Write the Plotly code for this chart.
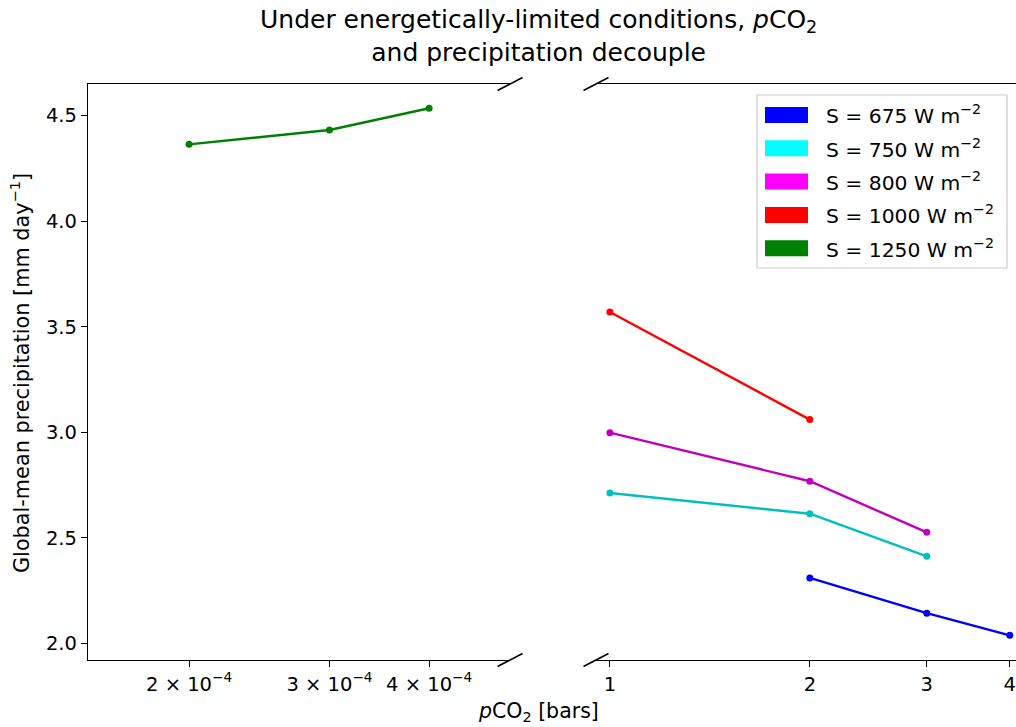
import numpy as np
import plotly.graph_objects as go

# Series: solar constant label, line colour, legend patch colour, pCO2 [bars], precipitation [mm/day]
labels = ["S = 675 W m<sup>−2</sup>", "S = 750 W m<sup>−2</sup>", "S = 800 W m<sup>−2</sup>",
          "S = 1000 W m<sup>−2</sup>", "S = 1250 W m<sup>−2</sup>"]
line_colors = ["#0000ff", "#00bfbf", "#bf00bf", "#ff0000", "#008000"]
patch_colors = ["#0000ff", "#00ffff", "#ff00ff", "#ff0000", "#008000"]

pco2_675 = [2, 3, 4]
precip_675 = [2.310, 2.143, 2.038]
pco2_750 = [1, 2, 3]
precip_750 = [2.712, 2.614, 2.412]
pco2_800 = [1, 2, 3]
precip_800 = [2.998, 2.768, 2.526]
pco2_1000 = [1, 2]
precip_1000 = [3.570, 3.060]
pco2_1250 = [2e-4, 3e-4, 4e-4]
precip_1250 = [4.364, 4.432, 4.535]

low_ticks = [2e-4, 3e-4, 4e-4]
low_ticktext = ["2 × 10<sup>−4</sup>", "3 × 10<sup>−4</sup>", "4 × 10<sup>−4</sup>"]
high_ticks = [1, 2, 3, 4]
high_ticktext = ["1", "2", "3", "4"]
y_ticks = [2.0, 2.5, 3.0, 3.5, 4.0, 4.5]

series = [
    (pco2_675, precip_675),
    (pco2_750, precip_750),
    (pco2_800, precip_800),
    (pco2_1000, precip_1000),
    (pco2_1250, precip_1250),
]

FONT = "DejaVu Sans"
TICK_SIZE = 19.5
W, H = 1016, 727
ML, MR, MT, MB = 88, 0, 84, 67
PW = W - ML - MR
PH = H - MT - MB
left_dom = [0, 422 / PW]
right_dom = [508 / PW, 1]

fig = go.Figure()
for (x, y), col in zip(series, line_colors):
    high = x[0] >= 0.5
    fig.add_trace(go.Scatter(
        x=x, y=y, mode="lines+markers",
        line=dict(color=col, width=2.4),
        marker=dict(color=col, size=7),
        xaxis="x2" if high else "x", yaxis="y2" if high else "y",
        showlegend=False, hoverinfo="x+y",
    ))

axis_common = dict(type="log", showgrid=False, zeroline=False, showline=True, mirror=True,
                   linecolor="black", linewidth=1.3, ticks="outside", ticklen=6,
                   tickcolor="black", ticklabeloverflow="allow",
                   tickfont=dict(family=FONT, size=TICK_SIZE, color="black"))

fig.update_layout(
    width=W, height=H,
    margin=dict(l=ML, r=MR, t=MT, b=MB),
    paper_bgcolor="white", plot_bgcolor="white",
    font=dict(family=FONT, color="black"),
    xaxis=dict(domain=left_dom, range=[-3.8257, -3.2965], tickvals=low_ticks,
               ticktext=low_ticktext, anchor="y", **axis_common),
    xaxis2=dict(domain=right_dom, range=[np.log10(0.953), np.log10(4.087)], tickvals=high_ticks,
                ticktext=high_ticktext, anchor="y2", **axis_common),
    yaxis=dict(domain=[0, 1], range=[1.921, 4.650], tickvals=y_ticks,
               ticktext=[f"{v:.1f}" for v in y_ticks], showgrid=False, zeroline=False,
               showline=True, linecolor="black", linewidth=1.3, ticks="outside", ticklen=6,
               tickcolor="black", tickfont=dict(family=FONT, size=TICK_SIZE, color="black"),
               anchor="x"),
    yaxis2=dict(domain=[0, 1], range=[1.921, 4.650], matches="y", showgrid=False,
                zeroline=False, showline=False, showticklabels=False, ticks="", anchor="x2"),
    showlegend=False,
)

annotations = [
    dict(text="Under energetically-limited conditions, <i>p</i>CO<sub>2</sub><br>and precipitation decouple",
         x=(538 - ML) / PW, y=1 + (MT - 36) / PH, xref="paper", yref="paper",
         xanchor="center", yanchor="middle", showarrow=False,
         font=dict(family=FONT, size=25, color="black")),
    dict(text="<i>p</i>CO<sub>2</sub> [bars]", x=(538 - ML) / PW, y=-(712 - MT - PH) / PH,
         xref="paper", yref="paper", xanchor="center", yanchor="middle", showarrow=False,
         font=dict(family=FONT, size=20.5, color="black")),
    dict(text="Global-mean precipitation [mm day<sup>−1</sup>]", x=-(ML - 20) / PW,
         y=(H - MB - 373) / PH, xref="paper", yref="paper", textangle=-90,
         xanchor="center", yanchor="middle", showarrow=False,
         font=dict(family=FONT, size=20.8, color="black")),
]

shapes = []
# diagonal break marks where the x axis is split
dx, dy = 12.5 / PW, 6.5 / PH
for xc in (left_dom[1], right_dom[0]):
    for yc in (0, 1):
        shapes.append(dict(type="line", xref="paper", yref="paper",
                           x0=xc - dx, y0=yc - dy, x1=xc + dx, y1=yc + dy,
                           line=dict(color="black", width=1.6)))

# legend box with colour patches
lx0, lx1 = (757 - ML) / PW, (1007 - ML) / PW
ly_top, ly_bot = 1 - (95 - MT) / PH, 1 - (268 - MT) / PH
shapes.append(dict(type="rect", xref="paper", yref="paper", x0=lx0, x1=lx1, y0=ly_bot, y1=ly_top,
                   line=dict(color="#cccccc", width=1.2), fillcolor="rgba(255,255,255,0.8)",
                   layer="above"))
for i, (lab, pc) in enumerate(zip(labels, patch_colors)):
    cy = 115 + i * 33.3
    shapes.append(dict(type="rect", xref="paper", yref="paper",
                       x0=(765 - ML) / PW, x1=(808 - ML) / PW,
                       y0=1 - (cy + 8 - MT) / PH, y1=1 - (cy - 8 - MT) / PH,
                       line=dict(width=0), fillcolor=pc, layer="above"))
    annotations.append(dict(text=lab, x=(824 - ML) / PW, y=1 - (cy - MT) / PH,
                            xref="paper", yref="paper", xanchor="left", yanchor="middle",
                            showarrow=False, font=dict(family=FONT, size=20.3, color="black")))

fig.update_layout(annotations=annotations, shapes=shapes)
fig.write_html("out.html")
